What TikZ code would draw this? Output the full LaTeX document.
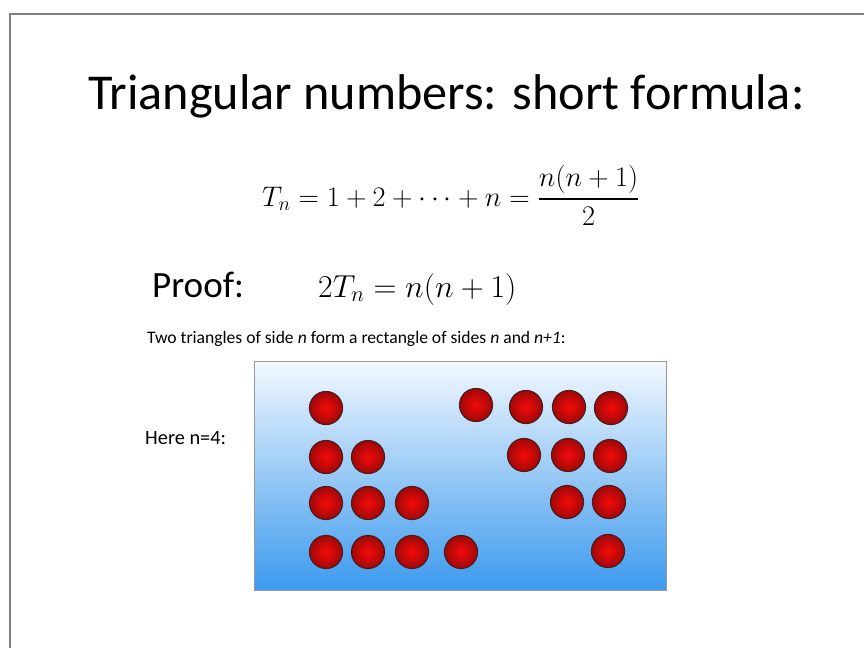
\RequirePackage{fix-cm}
\documentclass[tikz,border=0pt]{standalone}
\usepackage{amsmath}
\usepackage{fontspec}
\setmainfont{Carlito}
\usetikzlibrary{positioning}
\definecolor{frame}{HTML}{7F7F7F}
\definecolor{skytop}{HTML}{F2F8FE}
\definecolor{skybot}{HTML}{3C9AEE}
\definecolor{ballin}{HTML}{F40A0A}
\definecolor{ballout}{HTML}{A00808}
\definecolor{ballrim}{HTML}{4E1C1C}
\tikzset{heading/.style={anchor=base west,inner sep=0pt,font=\fontsize{42}{50}\selectfont},
  formula/.style={anchor=base west,inner sep=0pt,font=\fontsize{24}{28}\selectfont},
  label/.style={anchor=base west,inner sep=0pt,font=\fontsize{14.7}{18}\selectfont},
  ball/.style={circle,inner sep=0pt,minimum size=27.5bp,draw=ballrim,line width=1pt,
  shading=radial,inner color=ballin,outer color=ballout}}

\begin{document}
\begin{tikzpicture}[x=0.8333bp,y=-0.8333bp]
\useasboundingbox (0,0) rectangle (864,648);
\draw[frame,line width=1.7bp] (864,14)--(10,14)--(10,648);
\node[heading] (title) at (88,109) {Triangular numbers: short formula:};
\node[formula,font=\fontsize{23.7}{28}\selectfont] (sum) at (262,206) {$\displaystyle T_n=1+2+\cdots+n=\frac{n(n+1)}{2}$};
\node[heading,font=\fontsize{31}{37}\selectfont] (proof) at (152,297) {Proof:};
\node[formula,font=\fontsize{26.6}{31}\selectfont] (double) at (318,297) {$2T_n=n(n+1)$};
\node[label] (note) at (147,343) {Two triangles of side \textit{n} form a rectangle of sides \textit{n} and \textit{n+1}:};
\node[label,font=\fontsize{17}{20}\selectfont] (here) at (145,444) {Here n=4:};
% board with the two triangles
\shade[top color=skytop,bottom color=skybot,draw=frame!80,line width=0.6pt]
  (254,361) rectangle (666,590);
\foreach \x/\y [count=\i] in {326/408,326/457,368/457,326/503,368/503,412/503,
  326/552,368/552,412/552,461/552}
  \node[ball] (left\i) at (\x,\y) {};
\foreach \x/\y [count=\i] in {476/405,526/407,569/407,611/408,524/455,568/455,610/456,
  567/502,609/502,608/551}
  \node[ball] (right\i) at (\x,\y) {};
\end{tikzpicture}
\end{document}
